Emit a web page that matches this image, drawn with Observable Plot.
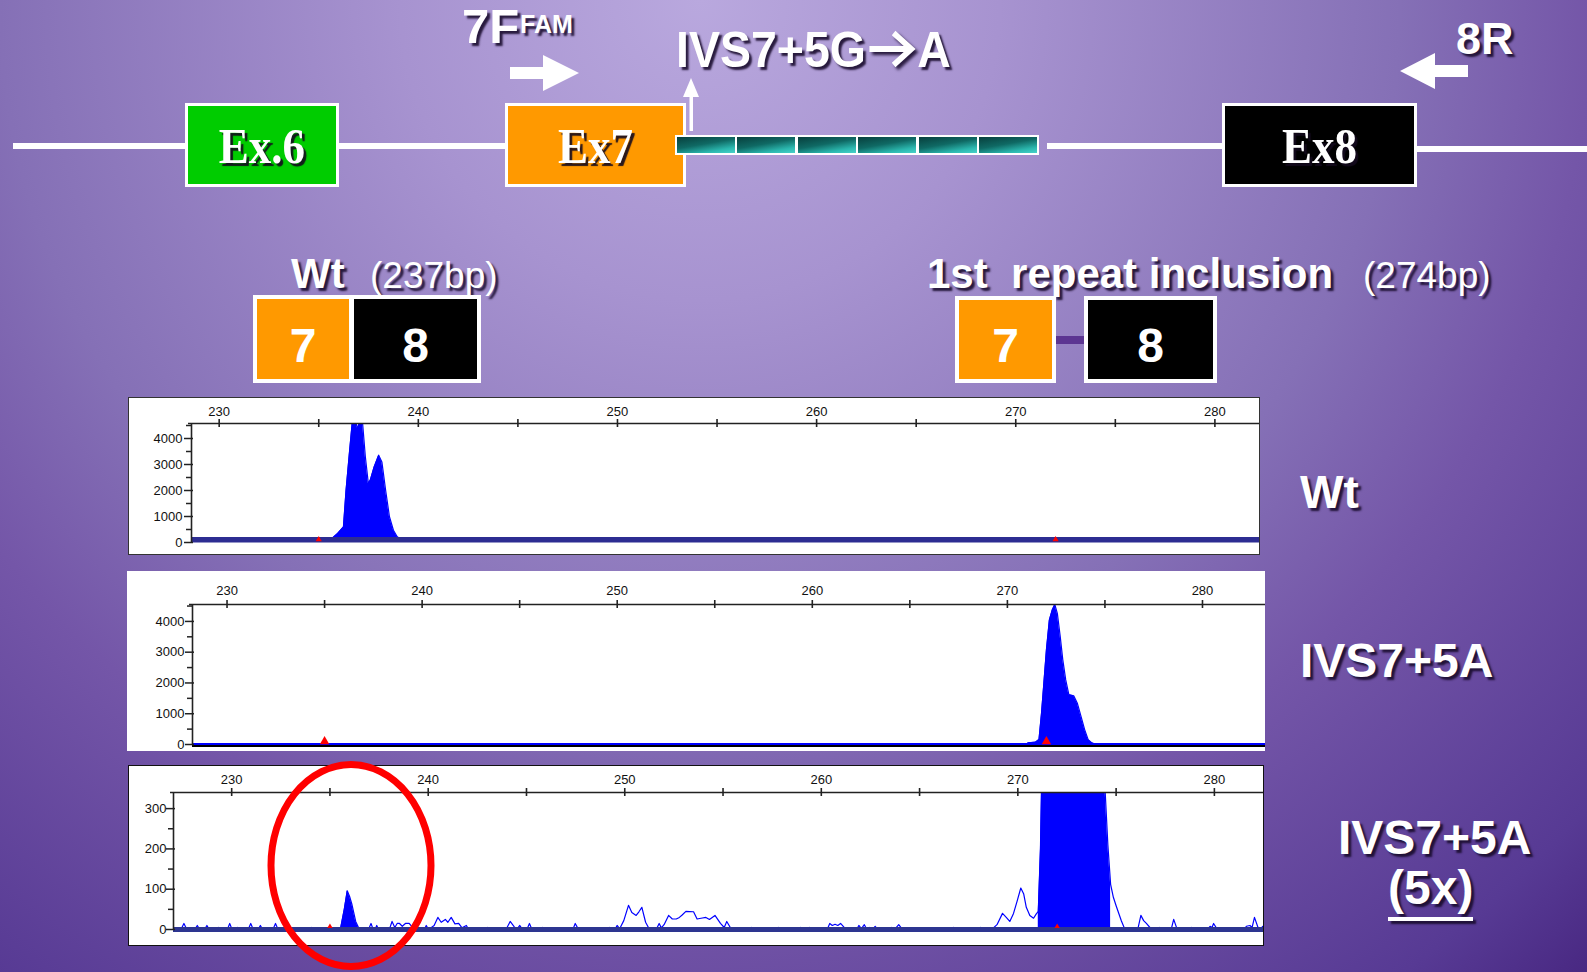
<!DOCTYPE html>
<html><head><meta charset="utf-8">
<script src="https://cdn.jsdelivr.net/npm/d3@7"></script>
<script src="https://cdn.jsdelivr.net/npm/@observablehq/plot@0.6"></script>
<style>
html,body{margin:0;padding:0;}
body{width:1587px;height:972px;overflow:hidden;position:relative;font-family:"Liberation Sans",Arial,sans-serif;
background:radial-gradient(circle at 700px 0px,#b9a8de 0px,#a793d0 300px,#8570b6 700px,#7456a8 890px,#573a94 1200px,#472680 1330px);}
.seg{position:absolute;height:6px;background:#fff;}
.exon{position:absolute;box-sizing:border-box;border:3px solid #fff;}
.exon span{position:absolute;left:0;right:0;text-align:center;top:15px;font:bold 50px "Liberation Serif","Times New Roman",serif;color:#fff;line-height:1;text-shadow:3px 3px 1px rgba(20,10,30,0.9);transform:scaleX(0.9);}
.rep{position:absolute;top:135px;width:62px;height:20px;box-sizing:border-box;border:2px solid #fff;
background:linear-gradient(170deg,#083f3d 0%,#0f6964 45%,#2bb7ae 78%,#48d2ca 100%);}
.lbl{position:absolute;color:#fff;font-weight:bold;line-height:1;white-space:nowrap;text-shadow:3px 3px 2px rgba(25,12,45,0.9);}
.reg{font-weight:normal;}
.box{position:absolute;box-sizing:border-box;}
.dig{position:absolute;left:0;right:0;text-align:center;color:#fff;font:bold 48px "Liberation Sans",Arial,sans-serif;line-height:1;}
.panel{position:absolute;}
svg.ov{position:absolute;left:0;top:0;pointer-events:none;}
</style>
</head>
<body>
<!-- gene line -->
<div class="seg" style="left:13px;top:143px;width:172px;"></div>
<div class="seg" style="left:338px;top:143px;width:168px;"></div>
<div class="seg" style="left:1047px;top:143px;width:176px;"></div>
<div class="seg" style="left:1415px;top:146px;width:172px;"></div>
<!-- exons -->
<div class="exon" style="left:185px;top:103px;width:154px;height:84px;background:#00cc00"><span>Ex.6</span></div>
<div class="exon" style="left:505px;top:103px;width:181px;height:84px;background:#ff9900"><span>Ex7</span></div>
<div class="exon" style="left:1222px;top:103px;width:195px;height:84px;background:#000"><span>Ex8</span></div>
<!-- repeats -->
<div class="rep" style="left:675px"></div>
<div class="rep" style="left:735px"></div>
<div class="rep" style="left:796px"></div>
<div class="rep" style="left:856px"></div>
<div class="rep" style="left:917px"></div>
<div class="rep" style="left:977px"></div>
<!-- arrows -->
<svg class="ov" width="1587" height="972">
  <polygon points="510,67 543,67 543,55 579,73 543,91 543,79 510,79" fill="#fff"/>
  <polygon points="1468,65 1435,65 1435,53 1400,71 1435,89 1435,77 1468,77" fill="#fff"/>
  <rect x="689.5" y="95" width="3.5" height="36" fill="#fff"/>
  <polygon points="683,97 699,97 691,78" fill="#fff"/>
</svg>
<!-- top labels -->
<div class="lbl" style="left:462px;top:2px;font-size:49px;">7F</div>
<div class="lbl" style="left:520px;top:12px;font-size:25px;">FAM</div>
<div class="lbl" style="left:676px;top:25px;font-size:50px;transform:scaleX(0.93);transform-origin:left center;">IVS7+5G<svg width="55" height="36" viewBox="0 0 55 36" style="filter:drop-shadow(3px 3px 1.5px rgba(25,12,45,0.9));overflow:visible"><path d="M4,18 H46" stroke="#fff" stroke-width="6" fill="none"/><path d="M30,2 L49,18 L30,34" stroke="#fff" stroke-width="6" fill="none" stroke-linejoin="miter"/></svg>A</div>
<div class="lbl" style="left:1456px;top:16px;font-size:45px;">8R</div>

<div class="lbl" style="left:291px;top:253px;font-size:42px;">Wt</div>
<div class="lbl reg" style="left:370px;top:257px;font-size:37px;">(237bp)</div>
<div class="lbl" style="left:927px;top:253px;font-size:42px;">1st&nbsp; repeat inclusion</div>
<div class="lbl reg" style="left:1363px;top:257px;font-size:37px;">(274bp)</div>

<!-- fragment boxes -->
<div class="box" style="left:253px;top:295px;width:228px;height:88px;background:#fff;"></div>
<div class="box" style="left:257px;top:299px;width:92px;height:80px;background:#ff9900;"><div class="dig" style="top:23px">7</div></div>
<div class="box" style="left:354px;top:299px;width:123px;height:80px;background:#000;"><div class="dig" style="top:23px">8</div></div>

<div class="box" style="left:955px;top:296px;width:101px;height:87px;background:#fff;"></div>
<div class="box" style="left:959px;top:300px;width:93px;height:79px;background:#ff9900;"><div class="dig" style="top:22px">7</div></div>
<div class="box" style="left:1056px;top:336px;width:31px;height:8px;background:#5c3592;"></div>
<div class="box" style="left:1084px;top:296px;width:133px;height:87px;background:#fff;"></div>
<div class="box" style="left:1088px;top:300px;width:125px;height:79px;background:#000;"><div class="dig" style="top:22px">8</div></div>

<!-- chart panels -->
<div id="p1" class="panel" style="left:128px;top:397px;"></div>
<div id="p2" class="panel" style="left:127px;top:571px;"></div>
<div id="p3" class="panel" style="left:128px;top:765px;"></div>

<!-- right labels -->
<div class="lbl" style="left:1300px;top:469px;font-size:46px;">Wt</div>
<div class="lbl" style="left:1300px;top:637px;font-size:48px;">IVS7+5A</div>
<div class="lbl" style="left:1338px;top:814px;font-size:48px;">IVS7+5A</div>
<div class="lbl" style="left:1388px;top:864px;font-size:48px;">(5x)</div>
<div class="lbl" style="left:1388px;top:917px;width:85px;height:4px;background:#fff;box-shadow:3px 3px 2px rgba(25,12,45,0.9);"></div>

<svg class="ov" width="1587" height="972">
  <ellipse cx="351" cy="865.5" rx="80" ry="101" fill="none" stroke="#ff0000" stroke-width="7"/>
</svg>

<script>
// ---- data ----
const bpTicks = [230, 235, 240, 245, 250, 255, 260, 265, 270, 275, 280];
const bpLabels = [230, 240, 250, 260, 270, 280];
const rfuMajor = [0, 1000, 2000, 3000, 4000];
const rfuMinor = [500, 1500, 2500, 3500, 4500];
const rfu5xMajor = [0, 100, 200, 300];
const rfu5xMinor = [50, 150, 250];
const sizeMarkers = [235.0, 272.0];

// Wt trace [bp, RFU]
const wtTrace = [[228.61,0],[235.5,0],[235.66,150],[235.95,350],[236.24,600],[236.37,2000],[236.53,3360],[236.68,4600],[236.83,4700],[236.95,4380],[237.07,4700],[237.2,4600],[237.34,3300],[237.49,2270],[237.59,2400],[237.78,2900],[238.01,3360],[238.17,3100],[238.36,2000],[238.55,990],[238.75,470],[238.94,220],[239.23,90],[239.36,0],[282.29,0]];
const wtPeakRanges = [[235.5, 239.36]];

// IVS7+5A trace
const ivsTrace = [[228.23,0],[271.0,0],[271.06,54],[271.44,75],[271.62,160],[271.75,1020],[271.87,2000],[272.0,3070],[272.15,4040],[272.3,4370],[272.43,4550],[272.56,4260],[272.71,3500],[272.84,2750],[272.99,2100],[273.15,1620],[273.4,1585],[273.58,1350],[273.77,920],[273.96,485],[274.14,160],[274.33,54],[274.46,20],[274.6,0],[283.23,0]];
const ivsPeakRanges = [[271.0, 274.6]];

// IVS7+5A (5x) trace
const ivs5xTrace = [
[227.04,0],[227.42,0],[227.57,15],[227.72,0],[228.12,0],[228.25,10],[228.38,0],[228.62,0],[228.74,10],[228.86,0],[229.22,0],[229.32,5],[229.42,0],[229.78,0],[229.9,15],[230.02,0],[230.2,0],[230.29,5],[230.38,0],[230.84,0],[230.97,15],[231.1,0],[231.34,0],[231.46,10],[231.58,0],[232.1,0],[232.23,15],[232.36,0],[232.8,0],[232.91,5],[233.02,0],[233.96,0],[234.08,5],[234.2,0],[234.9,0],[235.0,8],[235.1,0],
[235.53,0],[235.73,50],[235.88,96],[236.0,82],[236.12,62],[236.31,20],[236.5,0],
[236.96,0],[237.09,15],[237.2,0],[237.3,0],[237.38,10],[237.48,0],[238.02,0],[238.16,20],[238.3,5],[238.42,15],[238.54,15],[238.68,8],[238.84,15],[239.03,15],[239.2,5],[239.42,0],[239.8,0],[239.9,10],[240.02,0],[240.3,10],[240.49,30],[240.66,18],[240.87,25],[241.0,18],[241.17,30],[241.36,14],[241.55,15],[241.72,4],[241.94,10],[242.06,0],[242.9,0],[243.0,5],[243.12,0],[243.96,0],[244.17,20],[244.36,8],[244.5,0],[244.66,10],[244.8,0],[245.02,0],[245.15,15],[245.28,0],[245.72,0],[245.83,5],[245.94,0],[247.36,0],[247.48,15],[247.6,4],[247.72,0],[249.1,0],[249.22,5],[249.34,0],[249.5,0],[249.61,10],[249.74,2],[249.95,22],[250.19,60],[250.36,42],[250.58,35],[250.72,44],[250.87,55],[251.06,18],[251.26,0],[251.6,0],[251.75,15],[251.86,4],[252.0,12],[252.23,35],[252.42,26],[252.62,26],[252.78,30],[252.92,36],[253.11,45],[253.5,44],[253.68,26],[253.88,28],[254.13,30],[254.31,25],[254.59,35],[254.87,15],[255.06,5],[255.19,20],[255.43,0],
[256.3,0],[256.44,5],[256.6,0],[257.7,0],[257.83,5],[257.95,0],[258.82,0],[258.94,5],[259.06,0],[259.3,0],[259.41,5],[259.52,0],[260.3,0],[260.43,15],[260.56,10],[260.7,13],[260.84,10],[260.98,15],[261.26,0],[261.8,0],[261.91,10],[262.04,2],[262.19,12],[262.32,0],[262.46,5],[262.6,0],[262.74,8],[262.88,0],[263.02,3],[263.45,0],[263.57,5],[263.7,0],[263.82,5],[263.94,12],[264.13,0],[266.62,0],[266.72,5],[266.82,0],[268.0,0],[268.11,5],[268.22,0],
[268.67,0],[268.94,12],[269.22,40],[269.41,30],[269.59,20],[269.78,40],[269.96,70],[270.15,103],[270.3,88],[270.43,55],[270.61,35],[270.8,28],[270.93,38],[271.04,45],[271.15,200],[271.3,600],[271.6,1800],[272.0,3500],[272.4,5500],[272.8,3800],[273.2,2400],[273.6,1900],[274.0,1000],[274.3,520],[274.44,345],[274.58,210],[274.72,112],[274.86,80],[275.0,59],[275.27,21],[275.45,0],
[276.1,0],[276.26,35],[276.4,22],[276.54,15],[276.72,5],[276.9,0],[277.08,0],[277.19,5],[277.3,0],[277.8,0],[277.93,25],[278.11,0],[278.75,0],[278.85,5],[278.95,0],[279.65,0],[279.78,8],[279.88,5],[279.96,15],[280.15,0],[281.5,0],[281.63,8],[281.81,10],[281.92,5],[282.04,30],[282.22,5],[282.38,3],[282.46,8],[282.55,8]];
const ivs5xPeakRanges = [[235.53, 236.5], [271.04, 274.72]];

// ---- drawing ----
function makePanel(cfg) {
  const [x0, x1] = cfg.xDomain;
  const yMax = cfg.yMax;
  const marks = [];
  for (const [a, b] of cfg.ranges) {
    const seg = cfg.trace.filter(d => d[0] >= a && d[0] <= b);
    marks.push(Plot.areaY(seg, {x: d => d[0], y: d => d[1], fill: "#0000ff", clip: true}));
  }
  marks.push(Plot.lineY(cfg.trace, {x: d => d[0], y: d => d[1], stroke: "#0000ff", strokeWidth: 1.2, clip: true}));
  for (const b of cfg.bands) {
    marks.push(Plot.ruleY([0], {stroke: b.stroke, strokeWidth: b.w, dy: b.dy}));
  }
  marks.push(Plot.dot(sizeMarkers, {x: d => d, y: 0, symbol: "triangle", fill: "#ff0000", r: cfg.markerR, dy: cfg.markerDy}));
  // axis lines
  marks.push(Plot.ruleY([yMax], {stroke: "#222", strokeWidth: 1.6, insetLeft: -3}));
  marks.push(Plot.ruleX([x0], {stroke: "#222", strokeWidth: 1.6}));
  marks.push(Plot.ruleX(bpTicks, {x: d => d, y1: yMax, y2: yMax, insetTop: -4, insetBottom: -4, stroke: "#222", strokeWidth: 1.6}));
  marks.push(Plot.ruleY(cfg.yMajor, {y: d => d, x1: x0, x2: x0, insetLeft: -7, insetRight: -2, stroke: "#222", strokeWidth: 1.5}));
  marks.push(Plot.ruleY(cfg.yMinor, {y: d => d, x1: x0, x2: x0, insetLeft: -5, insetRight: 0, stroke: "#222", strokeWidth: 1.5}));
  marks.push(Plot.text(bpLabels, {x: d => d, y: yMax, dy: cfg.xLabelDy, text: d => String(d), fill: "#111"}));
  marks.push(Plot.text(cfg.yMajor, {x: x0, y: d => d, dx: cfg.yLabelDx, textAnchor: "end", text: d => String(d), fill: "#111"}));
  const svg = Plot.plot({
    width: cfg.width, height: cfg.height,
    marginLeft: cfg.ml, marginTop: cfg.mt, marginBottom: cfg.mb, marginRight: 0,
    x: {domain: [x0, x1], axis: null},
    y: {domain: [0, yMax], axis: null},
    style: {background: "#fff", fontFamily: "'Liberation Sans', Arial, sans-serif", fontSize: "13px", maxWidth: "none", overflow: "visible"},
    marks
  });
  if (cfg.outline) { svg.style.outline = cfg.outline; svg.style.outlineOffset = "-1px"; }
  document.getElementById(cfg.id).appendChild(svg);
}

makePanel({id: "p1", trace: wtTrace, ranges: wtPeakRanges, xDomain: [228.61, 282.29], yMax: 4577,
  yMajor: rfuMajor, yMinor: rfuMinor, width: 1132, height: 158, ml: 63, mt: 26, mb: 13,
  bands: [{stroke: "#2d2d92", w: 5.5, dy: -2.7}], markerR: 2.3, markerDy: -3,
  xLabelDy: -12, yLabelDx: -9, outline: "1px solid #333"});

makePanel({id: "p2", trace: ivsTrace, ranges: ivsPeakRanges, xDomain: [228.23, 283.23], yMax: 4550,
  yMajor: rfuMajor, yMinor: rfuMinor, width: 1138, height: 180, ml: 65, mt: 33, mb: 7,
  bands: [{stroke: "#000", w: 2, dy: 1.5}, {stroke: "#0000ff", w: 2, dy: -0.5}], markerR: 3.5, markerDy: -3,
  xLabelDy: -14, yLabelDx: -8, outline: null});

makePanel({id: "p3", trace: ivs5xTrace, ranges: ivs5xPeakRanges, xDomain: [227.04, 282.55], yMax: 340,
  yMajor: rfu5xMajor, yMinor: rfu5xMinor, width: 1136, height: 181, ml: 45, mt: 27, mb: 17,
  bands: [{stroke: "#2d3590", w: 5, dy: 0}], markerR: 2, markerDy: -3,
  xLabelDy: -13, yLabelDx: -7, outline: "1.5px solid #111"});
</script>
</body></html>
